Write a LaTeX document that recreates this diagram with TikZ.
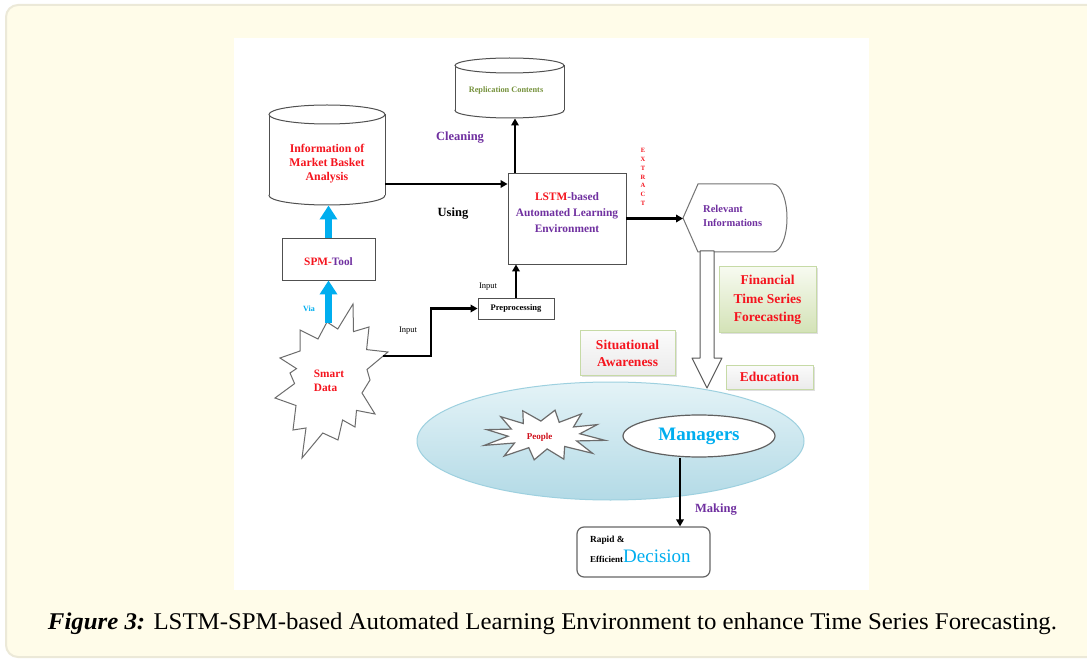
\documentclass[tikz,border=0pt]{standalone}
\usepackage{fontspec}
\setmainfont{Liberation Serif}
\usetikzlibrary{arrows.meta,calc,shadows,shapes.geometric}
\definecolor{cream}{HTML}{FFFCE9}
\definecolor{framec}{HTML}{ECE9D8}
\definecolor{tred}{HTML}{F5141E}
\definecolor{pred}{HTML}{D0101C}
\definecolor{tpurple}{HTML}{7030A0}
\definecolor{tgreen}{HTML}{76923C}
\definecolor{tcyan}{HTML}{00AEEF}
\definecolor{bord}{HTML}{505050}
\definecolor{ellTop}{HTML}{E4F3F7}
\definecolor{ellBot}{HTML}{B3DAE6}
\definecolor{ellBord}{HTML}{9DD0DF}
\definecolor{finTop}{HTML}{F7FAF0}
\definecolor{finBot}{HTML}{D3E2B6}
\definecolor{finBord}{HTML}{C6DAA6}
\definecolor{greyTop}{HTML}{FBFBFB}
\definecolor{greyBot}{HTML}{EBEBEB}
\newcommand\fsz[2]{\fontsize{#1}{#2}\selectfont}
\begin{document}
\begin{tikzpicture}[x=1pt,y=-1pt,
  arr/.style={line width=2.4pt,-{Triangle[length=7pt,width=7.5pt]}},
  carr/.style={line width=7pt,tcyan,-{Triangle[length=14pt,width=17pt]}},
  gbox/.style={draw=bord,line width=0.9pt,fill=white,inner sep=0pt},
  cylst/.style={draw=bord,line width=1pt,fill=white},
  txt/.style={inner sep=0pt,align=center,font=\bfseries},
  pastel/.style={line width=1pt,inner sep=0pt,align=center,
     drop shadow={shadow xshift=1.5pt,shadow yshift=-1.5pt,opacity=0.25}},
  starst/.style={draw=gray!85!black,line width=1.2pt,fill=white},
]
\useasboundingbox (0,0) rectangle (1087,660);
\fill[white] (0,0) rectangle (1087,660);
\draw[framec,line width=2pt,fill=cream,rounded corners=12pt] (6,5) rectangle (1100,657);
\fill[white] (234,38) rectangle (869,590);

% ---- Replication Contents cylinder
\filldraw[cylst] (509.5,110.5) ellipse[x radius=54.5,y radius=7.5];
\fill[white] (455,65.5) rectangle (564,110.5);
\draw[cylst] (455,65.5) -- (455,110.5) (564,65.5) -- (564,110.5);
\filldraw[cylst] (509.5,65.5) ellipse[x radius=54.5,y radius=7.5];
\node[txt,text=tgreen,font=\bfseries\fsz{8.3}{10}] (rep) at (506,91) {Replication Contents};
\coordinate (repB) at (515,118.5);

% ---- Market basket cylinder
\filldraw[cylst] (327,195.5) ellipse[x radius=58,y radius=9.5];
\fill[white] (269,114.5) rectangle (385,195.5);
\draw[cylst] (269,114.5) -- (269,195.5) (385,114.5) -- (385,195.5);
\filldraw[cylst] (327,114.5) ellipse[x radius=58,y radius=9.5];
\node[txt,text=tred,font=\bfseries\fsz{11.8}{14}] (mba) at (327,164) {Information of\\Market Basket\\Analysis};
\coordinate (mbaR) at (385,184);
\coordinate (mbaB) at (328.5,205.5);

% ---- labels
\node[txt,text=tpurple,font=\bfseries\fsz{12.5}{14}] (clean) at (460,138) {Cleaning};
\node[txt,font=\bfseries\fsz{12.5}{14}] (using) at (453,214) {Using};

% ---- LSTM box
\node[gbox,minimum width=118,minimum height=91] (lstm) at (567,218.5) {};
\node[txt,text=tpurple,font=\bfseries\fsz{11.4}{15.8}] (lstmt) at (567,212.5)
  {\textcolor{tred}{LSTM}-based\\Automated Learning\\Environment};

% ---- EXTRACT
\node[txt,text=tred,font=\bfseries\fsz{6.5}{8.8}] (ext) at (643,177) {E\\X\\T\\R\\A\\C\\T};

% ---- Relevant informations
\draw[draw=bord!80,line width=1pt,fill=white] (683,218) -- (698,184) -- (773,184)
  arc[start angle=-90,end angle=90,x radius=14,y radius=34] -- (698,252) -- cycle;
\coordinate (reltip) at (683,218.5);
\node[txt,align=left,anchor=west,text=tpurple,font=\bfseries\fsz{10.5}{13.5}] (rel) at (703,216) {Relevant\\Informations};

% ---- arrows top
\draw[arr] (mbaR) -- (mbaR -| lstm.west);
\draw[arr] (repB |- lstm.north) -- (repB);
\draw[arr] (lstm.east) -- (reltip);

% ---- hollow arrow
\draw[draw=gray!70!black,line width=1pt,fill=white,line join=round]
  (700,251) -- (714,251) -- (714,358) -- (722,358) -- (707,388) -- (692,358) -- (700,358) -- cycle;

% ---- pastel boxes
\node[pastel,draw=finBord,top color=finTop,bottom color=finBot,minimum width=97,minimum height=66,
  text=tred,font=\bfseries\fsz{13.5}{18.3}] (fin) at (767.5,300) {Financial\\Time Series\\Forecasting};
\node[pastel,draw=finBord,top color=greyTop,bottom color=greyBot,minimum width=95,minimum height=44,
  text=tred,font=\bfseries\fsz{13.5}{17}] (sit) at (627.5,353) {Situational\\Awareness};
\node[pastel,draw=finBord,top color=greyTop,bottom color=greyBot,minimum width=87,minimum height=24,
  text=tred,font=\bfseries\fsz{13.5}{16}] (edu) at (769.5,377) {Education};

% ---- SPM tool
\node[gbox,minimum width=93,minimum height=42] (spm) at (328.5,259) {};
\node[txt,text=tpurple,font=\bfseries\fsz{11.3}{13}] (spmt) at (328.5,262) {\textcolor{tred}{SPM-}Tool};

% ---- Smart data star
\draw[starst,line width=1pt] (353,304) -- (353.5,331.6) -- (369,327) -- (366.6,349.6) -- (388,352)
  -- (367,369.5) -- (370,380) -- (362,393) -- (375,414) -- (356.5,410.4) -- (355,427)
  -- (342.6,420) -- (338,440) -- (322.8,433) -- (302,458) -- (306,428) -- (293,430)
  -- (296,405.5) -- (275,398) -- (294.6,383.6) -- (290,373) -- (296.5,368.6) -- (280,358)
  -- (300,351) -- (300,330) -- (318,339) -- (327,322) -- (337.75,329) -- cycle;
\node[txt,align=left,text=tred,font=\bfseries\fsz{11.3}{14}] (smart) at (329,381) {Smart\\Data};
\coordinate (smartT) at (328.5,323);
\coordinate (smartR) at (383,356);

% ---- cyan arrows
\draw[carr] (smartT) -- (spm.south);
\draw[carr] (spm.north) -- (mbaB);
\node[txt,text=tcyan,font=\bfseries\fsz{8}{10}] (via) at (309,309) {Via};

% ---- preprocessing
\node[gbox,minimum width=76,minimum height=21,font=\bfseries\fsz{8.5}{10}] (pre) at (516,308.5) {Preprocessing};
\draw[arr] (smartR) -- ++(48,0) |- (pre.west);
\draw[arr] (pre.north) -- (pre.north |- lstm.south);
\node[inner sep=0pt,font=\fsz{8.5}{10}] (in1) at (408,331) {Input};
\node[inner sep=0pt,font=\fsz{8.5}{10}] (in2) at (488,287) {Input};

% ---- big ellipse
\path[draw=ellBord,line width=1pt,top color=ellTop,bottom color=ellBot]
  (610.5,441) ellipse[x radius=193.5,y radius=59];

% ---- people star
\draw[starst] plot[samples at={10,25,...,355},variable=\a]
  ({544+(mod(\a-10,30)==0 ? 60+4*sin(3*\a) : 36)*cos(\a)},
   {435+(mod(\a-10,30)==0 ? 28+3*cos(2*\a) : 14)*sin(\a)}) -- cycle;
\node[txt,text=pred,font=\bfseries\fsz{9}{10}] (people) at (539.5,437) {People};

% ---- managers
\node[ellipse,draw=gray!75!black,line width=1.2pt,fill=white,minimum width=152,minimum height=42,inner sep=0pt,
  text=tcyan,font=\bfseries\fsz{19}{20}] (mgr) at (699,436) {Managers};

% ---- decision
\node[draw=gray!80!black,line width=1.2pt,fill=white,rounded corners=7pt,minimum width=133,minimum height=50] (dec) at (643.5,552) {};
\node[inner sep=0pt,anchor=west,font=\bfseries\fsz{9.3}{10}] (rapid) at (590,540) {Rapid \&};
\node[inner sep=0pt,anchor=base west] (effd) at (590,562)
  {{\bfseries\fsz{9}{9}Efficient}{\fsz{19}{20}\selectfont\color{tcyan}Decision}};
\draw[arr] ([xshift=-19pt]mgr.south) -- ([xshift=-19pt]mgr.south |- dec.north);
\node[txt,text=tpurple,font=\bfseries\fsz{12.5}{14}] (making) at (716,510) {Making};

% ---- caption
\node[inner sep=0pt,font=\fsz{24}{28}] (cap) at (552.5,624)
  {\scalebox{1.035}[1]{\textbf{\textit{Figure 3:}} LSTM-SPM-based Automated Learning Environment to enhance Time Series Forecasting.}};
\end{tikzpicture}
\end{document}
